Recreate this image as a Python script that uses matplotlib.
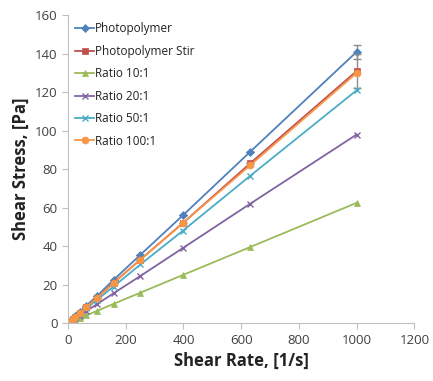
import matplotlib.pyplot as plt

# shear rate points [1/s]
rate = [1, 1.6, 2.5, 4, 6.3, 10, 16, 25, 40, 63, 100, 158, 251, 398, 631, 1000]

photopolymer = [0.15, 0.23, 0.36, 0.57, 0.9, 1.4, 2.3, 3.6, 5.7, 9.0, 14.0, 22.5, 35.5, 56.0, 89.0, 141.0]
photopolymer_stir = [0.13, 0.21, 0.33, 0.52, 0.83, 1.3, 2.1, 3.3, 5.2, 8.3, 13.0, 21.0, 33.0, 52.0, 83.0, 131.0]
ratio_10 = [0.06, 0.1, 0.16, 0.25, 0.4, 0.63, 1.0, 1.6, 2.5, 4.0, 6.3, 10.0, 15.8, 25.0, 39.5, 62.5]
ratio_20 = [0.1, 0.16, 0.25, 0.39, 0.62, 0.98, 1.6, 2.5, 3.9, 6.2, 9.8, 15.5, 24.5, 39.0, 62.0, 98.0]
ratio_50 = [0.12, 0.19, 0.3, 0.48, 0.76, 1.2, 1.9, 3.0, 4.8, 7.6, 12.0, 19.0, 30.5, 48.0, 76.5, 121.0]
ratio_100 = [0.13, 0.21, 0.33, 0.52, 0.82, 1.3, 2.1, 3.3, 5.2, 8.2, 13.0, 20.7, 33.0, 52.0, 82.0, 130.0]

# error at the last point only
err_photo = [0] * 15 + [3.5]
err_stir = [0] * 15 + [9.0]

plt.rcParams['font.family'] = ['Open Sans', 'DejaVu Sans']

fig = plt.figure(figsize=(4.33, 3.81), dpi=100)
ax = fig.add_axes([0.157, 0.152, 0.80, 0.808])

series = [
    (photopolymer, 'Photopolymer', '#4F81BD', 'D', 4, err_photo),
    (photopolymer_stir, 'Photopolymer Stir', '#C0504D', 's', 5, err_stir),
    (ratio_10, 'Ratio 10:1', '#9BBB59', '^', 5, None),
    (ratio_20, 'Ratio 20:1', '#8064A2', 'x', 5, None),
    (ratio_50, 'Ratio 50:1', '#4BACC6', 'x', 5, None),
    (ratio_100, 'Ratio 100:1', '#F79646', 'o', 5, None),
]

for vals, label, col, mk, ms, err in series:
    if err is not None:
        ax.errorbar(rate, vals, yerr=err, fmt='none', ecolor='#8C8C8C', elinewidth=1, capsize=3)
    ax.plot(rate, vals, color=col, marker=mk, markersize=ms, linewidth=1.3, label=label,
            markeredgewidth=1 if mk == 'x' else 0.5)

ax.set_xlim(0, 1200)
ax.set_ylim(0, 160)
ax.set_xticks(range(0, 1201, 200))
ax.set_yticks(range(0, 161, 20))

for s in ['top', 'right']:
    ax.spines[s].set_visible(False)
for s in ['left', 'bottom']:
    ax.spines[s].set_color('#BFBFBF')
ax.tick_params(colors='#BFBFBF', labelcolor='#404040', labelsize=9.5, length=4)

ax.set_xlabel('Shear Rate, [1/s]', fontsize=12, fontweight='bold', color='#222222')
ax.set_ylabel('Shear Stress, [Pa]', fontsize=12, fontweight='bold', color='#222222')

leg = ax.legend(loc='upper left', bbox_to_anchor=(0.0, 1.0), frameon=False, fontsize=8.5,
                handlelength=1.6, handletextpad=0.1, labelspacing=0.8, borderaxespad=0.2)
for t in leg.get_texts():
    t.set_color('#222222')

fig.savefig('out.png', dpi=100)
